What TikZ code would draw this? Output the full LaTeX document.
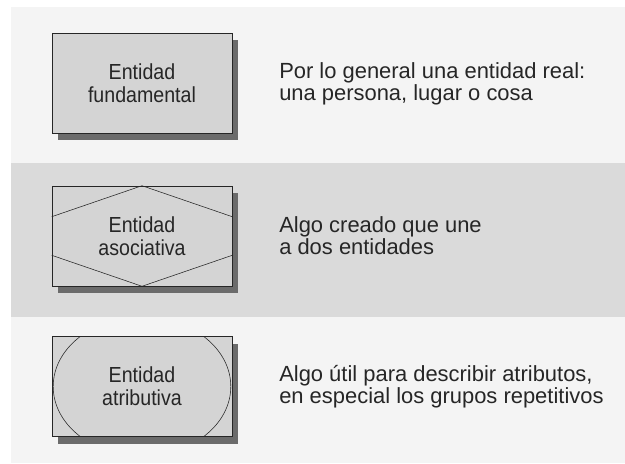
\documentclass[tikz,border=0pt]{standalone}
\usepackage{fontspec}
\setmainfont{Liberation Sans}
\newfontfamily\narrowfont[FakeStretch=0.9]{Liberation Sans}
\usepackage{tikz}
\usetikzlibrary{shadows}

\definecolor{panelgray}{HTML}{F4F4F4}
\definecolor{bandgray}{HTML}{DADADA}
\definecolor{boxgray}{HTML}{D4D4D4}
\definecolor{inkgray}{HTML}{262626}

\begin{document}
\begin{tikzpicture}[
    entity/.style={rectangle, draw=black!85, fill=boxgray, minimum width=4.5cm, minimum height=2.5cm, align=center,
        text=inkgray, font=\narrowfont\fontsize{15.5}{16.4}\selectfont,
        drop shadow={shadow xshift=0.15cm, shadow yshift=-0.175cm, fill=black!58, opacity=1}},
    note/.style={anchor=west, align=left, text=inkgray, font=\fontsize{15.6}{15.8}\selectfont, inner sep=0pt}
]
\useasboundingbox (0,0) rectangle (15.625,11.575);
\fill[white] (0,0) rectangle (15.625,11.575);
\fill[panelgray] (0.275,0) rectangle (15.625,11.4);
\fill[bandgray] (0.275,3.65) rectangle (15.625,7.5);

\node[entity] (fund) at (3.55,9.4875) {Entidad\\fundamental};
\node[entity] (asoc) at (3.55,5.675) {Entidad\\asociativa};
\node[entity] (atrib) at (3.55,1.9125) {Entidad\\atributiva};

% hexagon inside the associative entity
\draw[black!85] ([yshift=-0.775cm]asoc.north west) -- (asoc.north) -- ([yshift=-0.775cm]asoc.north east);
\draw[black!85] ([yshift=0.775cm]asoc.south west) -- (asoc.south) -- ([yshift=0.775cm]asoc.south east);

% rounded ends inside the attributive entity
\begin{scope}
\clip (atrib.south west) rectangle (atrib.north east);
\draw[black!85] (atrib.center) ellipse [x radius=2.22cm, y radius=1.74cm];
\end{scope}

\node[note] (fundtxt) at (6.975,9.4875) {Por lo general una entidad real:\\una persona, lugar o cosa};
\node[note] (asoctxt) at (6.975,5.675) {Algo creado que une\\a dos entidades};
\node[note] (atribtxt) at (6.975,1.9125) {Algo útil para describir atributos,\\en especial los grupos repetitivos};
\end{tikzpicture}
\end{document}
